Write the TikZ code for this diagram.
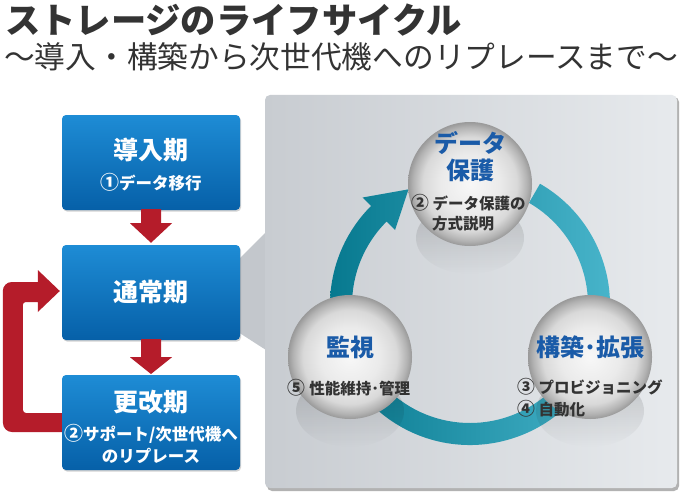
\documentclass[tikz,border=0pt]{standalone}
\usepackage{fontspec}
\newfontfamily\jp{Noto Sans CJK JP}
\usetikzlibrary{calc,shadows,fadings}
\definecolor{titlegray}{HTML}{333333}
\definecolor{boxtop}{HTML}{1E8CD5}
\definecolor{boxbot}{HTML}{0660A8}
\definecolor{arrowred}{HTML}{B51C2A}
\definecolor{panelL}{HTML}{C8CCD1}
\definecolor{panelR}{HTML}{E7EAED}
\definecolor{tabgray}{HTML}{C3C7CC}
\definecolor{ringdark}{HTML}{07798F}
\definecolor{ringlight}{HTML}{4CB8CE}
\definecolor{sphereblue}{HTML}{1A5BA8}
\definecolor{labelgray}{HTML}{333333}
\tikzfading[name=fadedown, top color=transparent!20, bottom color=transparent!100]
\pgfdeclareradialshading{glass}{\pgfpoint{0bp}{0bp}}{color(0bp)=(white!97!black); color(12bp)=(white!92!black); color(19bp)=(white!85!black); color(23bp)=(white!70!black); color(25bp)=(white!60!black); color(50bp)=(white!60!black)}
\newcommand{\cdg}[1]{\scalebox{1.15}{#1}}
\begin{document}
\begin{tikzpicture}[x=1pt,y=-1pt,
  titletext/.style={anchor=west, text=titlegray, font=\jp\bfseries\fontsize{35.3}{40}\selectfont, inner sep=0},
  subtitletext/.style={anchor=west, text=titlegray, font=\jp\fontsize{30.7}{36}\selectfont, inner sep=0},
  bluebox/.style={rounded corners=4pt, top color=boxtop, bottom color=boxbot, minimum width=178pt, minimum height=95pt, inner sep=0,
     drop shadow={shadow xshift=1pt, shadow yshift=-1.5pt, opacity=.35}},
  boxtitle/.style={text=white, font=\jp\bfseries\fontsize{25}{28}\selectfont, inner sep=0},
  boxsub/.style={text=white, font=\jp\bfseries\fontsize{16.5}{22}\selectfont, inner sep=0, align=center},
  spheretitle/.style={text=sphereblue, font=\jp\bfseries\fontsize{24}{27}\selectfont, inner sep=0, align=center},
  spherelabel/.style={text=labelgray, font=\jp\bfseries\fontsize{15.5}{20}\selectfont, inner sep=0},
  redarrow/.style={fill=arrowred},
  sphere/.style={shading=glass},
  reflect/.style={fill=black, fill opacity=0.2, path fading=fadedown}
]
\useasboundingbox (0,0) rectangle (684,500);
\fill[white] (0,0) rectangle (684,500);

% titles
\node[titletext] (title) at (5,20) {ストレージのライフサイクル};
\node[subtitletext] (subtitle) at (4,57) {～導入・構築から次世代機へのリプレースまで～};

% panel and tab
\fill[tabgray] (238,260) -- (266,232) -- (266,350) -- (238,332) -- cycle;
\fill[black!30, rounded corners=5] (267,97) rectangle (679,491);
\shade[left color=panelL, right color=panelR, rounded corners=5] (265,95) rectangle (677,488);

% boxes
\node[bluebox] (b1) at (151,162.5) {};
\node[bluebox] (b2) at (151,292.5) {};
\node[boxtitle] (b1t) at (151,150) {導入期};
\node[boxsub] (b1s) at (151,182) {\cdg{①}データ移行};
\node[boxtitle] (b2t) at (151,292) {通常期};

% down arrows
\fill[redarrow] ($(b1.south)+(-10,-1)$) -- ($(b1.south)+(-10,13)$) -- ($(b1.south)+(-21,13)$)
  -- ($(b2.north)+(0,-2)$) -- ($(b1.south)+(21,13)$) -- ($(b1.south)+(10,13)$) -- ($(b1.south)+(10,-1)$) -- cycle;
\coordinate (b3n) at (151,375);
\fill[redarrow] ($(b2.south)+(-10,-1)$) -- ($(b2.south)+(-10,17)$) -- ($(b2.south)+(-21,17)$)
  -- ($(b3n)+(0,-1)$) -- ($(b2.south)+(21,17)$) -- ($(b2.south)+(10,17)$) -- ($(b2.south)+(10,-1)$) -- cycle;

% loop arrow
\coordinate (b3w) at (62,422.5);
\fill[redarrow] ($(b3w)+(8,9.5)$) [rounded corners=9] -- ($(b3w)+(-59,9.5)$) -- ($(b2.west)+(-59,-10.5)$) [sharp corners]
  -- ($(b2.west)+(-24,-10.5)$) -- ($(b2.west)+(-24,-22.5)$) -- ($(b2.west)+(-2,-1.5)$) -- ($(b2.west)+(-24,19.5)$)
  -- ($(b2.west)+(-24,9.5)$) [rounded corners=3] -- ($(b2.west)+(-39,9.5)$) -- ($(b3w)+(-39,-9.5)$) [sharp corners]
  -- ($(b3w)+(8,-9.5)$) -- cycle;
\node[bluebox] (b3) at (151,422.5) {};
\node[boxtitle] (b3t) at (151,402) {更改期};
\node[boxsub] (b3s) at (151,444) {\cdg{②}サポート/次世代機へ\\のリプレース};

% ring
\coordinate (rc) at (470,305);
\shade[left color=ringdark, right color=ringlight]
  ([shift={(rc)}]-60:140) arc[start angle=-60, end angle=225, radius=140]
  -- ([shift={(rc)}]225:152) -- ([shift={(rc)}]242:131) -- ([shift={(rc)}]225:106)
  -- ([shift={(rc)}]225:118) arc[start angle=225, end angle=-60, radius=118] -- cycle;

% reflections
\fill[reflect] (470,238) ellipse [x radius=54, y radius=36];
\fill[reflect] (350,411) ellipse [x radius=54, y radius=36];
\fill[reflect] (590,411) ellipse [x radius=54, y radius=36];

% spheres
\shade[sphere] (470,184) circle [radius=62];
\shade[sphere] (350,357) circle [radius=62];
\shade[sphere] (590,357) circle [radius=62];

% sphere texts
\node[spheretitle] (s1t) at (470,157) {データ\\保護};
\node[spherelabel, anchor=west] (s1a) at (411,203) {\cdg{②} データ保護の};
\node[spherelabel, anchor=west] (s1b) at (432,224) {方式説明};
\node[spheretitle] (s2t) at (350,347) {監視};
\node[spherelabel] (s2a) at (349,388) {\cdg{⑤} 性能維持･管理};
\node[spheretitle] (s3t) at (590,347) {構築･拡張};
\node[spherelabel, anchor=west] (s3a) at (517,387) {\cdg{③} プロビジョニング};
\node[spherelabel, anchor=west] (s3b) at (517,409) {\cdg{④} 自動化};
\end{tikzpicture}
\end{document}
